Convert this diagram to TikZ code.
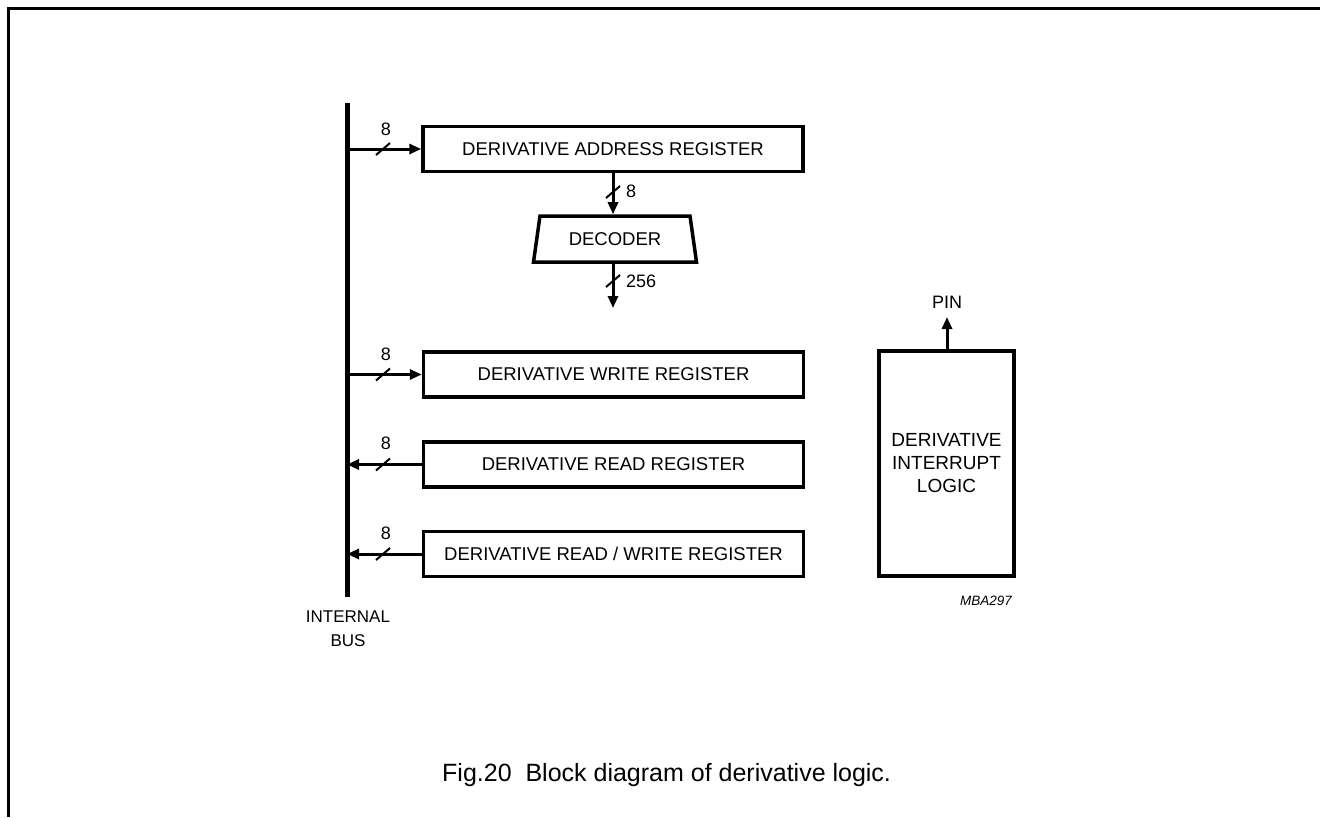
\documentclass[tikz,border=0pt]{standalone}
\usepackage{fontspec}
\setmainfont{Liberation Sans}
\usetikzlibrary{arrows.meta,shapes.geometric}
\begin{document}
\begin{tikzpicture}[x=1pt,y=-1pt,
  txt/.style={font=\fontsize{18}{21}\selectfont,inner sep=0pt},
  reg/.style={draw,line width=3.5pt,minimum width=380pt,minimum height=45pt,inner sep=0pt,font=\fontsize{18.5}{21}\selectfont},
  conn/.style={line width=3pt,-{Triangle[length=12pt,width=10pt]}},
  frame/.style={line width=3pt},
  bus/.style={line width=5pt},
  slashmark/.pic={\draw[line width=2pt] (-7,6) -- (7,-6);}
]
\useasboundingbox (0,0) rectangle (1320,817);
% frame
\draw[frame] (8,817) -- (8,8) -- (1320,8);
% bus
\coordinate (bustop) at (347,103);
\coordinate (busbot) at (347,597);
\draw[bus] (bustop) -- (busbot);
\node[font=\fontsize{17}{24}\selectfont,inner sep=0pt,align=center] (buslbl) at (348,629) {INTERNAL\\BUS};
% registers
\node[reg] (addr) at (613,149) {DERIVATIVE ADDRESS REGISTER};
\node[reg] (wr) at (613.5,374.5) {DERIVATIVE WRITE REGISTER};
\node[reg] (rd) at (613.5,464.5) {DERIVATIVE READ REGISTER};
\node[reg] (rw) at (613.5,554) {DERIVATIVE READ / WRITE REGISTER};
% decoder
\node[draw,line width=3.5pt,trapezium,trapezium left angle=73,trapezium right angle=73,
  trapezium stretches=true,minimum width=164pt,minimum height=46pt,inner sep=0pt,
  font=\fontsize{18.5}{21}\selectfont] (dec) at (615,239) {DECODER};
\coordinate (decout) at (613,308);
% interrupt logic
\node[draw,line width=3.5pt,minimum width=135pt,minimum height=225pt,inner sep=0pt,
  align=center,font=\fontsize{19}{23}\selectfont] (intl) at (946.5,463.5) {DERIVATIVE\\INTERRUPT\\LOGIC};
\coordinate (pin) at (947,317);
\node[txt] (pinlbl) at (947,302) {PIN};
% connectors bus <-> registers
\draw[conn] (bustop |- addr.west) -- (addr.west);
\draw[conn] (bustop |- wr.west) -- (wr.west);
\draw[conn] (rd.west) -- (bustop |- rd.west);
\draw[conn] (rw.west) -- (bustop |- rw.west);
\pic at (383,149) {slashmark};
\pic at (383,374.5) {slashmark};
\pic at (383,464.5) {slashmark};
\pic at (383,554) {slashmark};
\node[txt] (n1) at (386,129) {8};
\node[txt] (n2) at (386,354) {8};
\node[txt] (n3) at (386,443) {8};
\node[txt] (n4) at (386,533) {8};
% address -> decoder -> out
\draw[conn] (addr.south) -- (addr.south |- dec.north);
\pic at (613,192) {slashmark};
\node[txt,anchor=west] (n5) at (626,191) {8};
\draw[conn] (dec.south -| decout) -- (decout);
\pic at (613,281) {slashmark};
\node[txt,anchor=west] (n6) at (626,281) {256};
% pin
\draw[conn] (intl.north -| pin) -- (pin);
% ids
\node[font=\fontsize{13.5}{16}\selectfont\itshape,inner sep=0pt] (mba) at (986,601) {MBA297};
\node[font=\fontsize{25}{30}\selectfont,inner sep=0pt,anchor=west] (cap) at (442,775) {Fig.20\ \ Block diagram of derivative logic.};
\end{tikzpicture}
\end{document}
